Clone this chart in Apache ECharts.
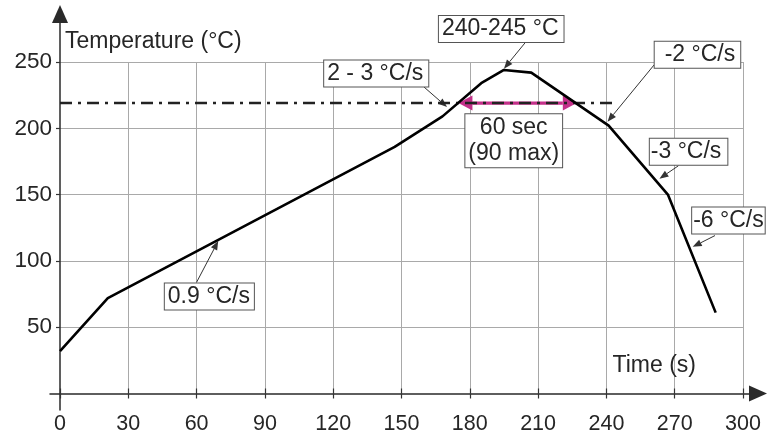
<!DOCTYPE html>
<html><head><meta charset="utf-8">
<script src="https://cdn.jsdelivr.net/npm/echarts@6/dist/echarts.min.js"></script>
<style>html,body{margin:0;padding:0;background:#fff}#c{width:768px;height:439px}</style>
</head><body><div id="c"></div>
<script>
// ---- data ----
const timeS = [0, 21, 147, 168, 185, 195, 207, 241, 267, 288];
const tempC = [32, 72, 186, 209, 234, 244, 242, 202, 150, 61];
const liquidusTemp = 219;
const liquidusTimes = [0, 243];
const aboveLiquidusTimes = [175, 227];
const xAxisRange = [0, 300, 30];
const yAxisRange = [0, 250, 50];
const annotationTexts = ['240-245 °C', '2 - 3 °C/s', '-2 °C/s', '60 sec\n(90 max)', '-3 °C/s', '-6 °C/s', '0.9 °C/s'];
// annotation anchors in data units (time, temperature)
const annotationBoxAt = [[193.8, 274.8], [138.9, 241.3], [280.0, 255.4], [199.3, 190.7], [276.1, 182.4], [293.6, 130.4], [65.6, 73.1]];
const annotationArrowFrom = [[204.2, 264.3], [159.9, 231.1], [261.0, 247.9], null, [271.6, 171.7], [287.7, 119.1], [60.0, 83.9]];
const annotationArrowTo = [[195, 245], [170, 216], [240.5, 205], null, [263.3, 162], [277.9, 110.6], [69.5, 115]];
const annotationPadding = [[1,5,1,3],[1,5,1,3],[1,5,1,10],[1,3,1,3],[1,6,1,1],[1,1,1,1],[1,4,1,3]];

const FONT = "'Liberation Sans', Arial, Helvetica, sans-serif";
const TXT = '#262626';

const chart = echarts.init(document.getElementById('c'));

function arrowHead(p2, ang, L, W) {
  const base = [p2[0] - L * Math.cos(ang), p2[1] - L * Math.sin(ang)];
  const a = [base[0] + W * Math.sin(ang), base[1] - W * Math.cos(ang)];
  const b = [base[0] - W * Math.sin(ang), base[1] + W * Math.cos(ang)];
  return { base, pts: [p2, a, b] };
}

chart.setOption({
  animation: false,
  backgroundColor: '#fff',
  grid: [
    { left: 60, right: 25, top: 62, bottom: 45.5 },
    { left: 50, right: 10, top: 14, bottom: 29 }
  ],
  xAxis: [
    {
      type: 'value', gridIndex: 0, min: xAxisRange[0], max: xAxisRange[1], interval: xAxisRange[2],
      axisLine: { show: false },
      axisTick: { show: true, length: 5, lineStyle: { color: '#333', width: 1.2 } },
      axisLabel: { fontSize: 21.5, color: TXT, margin: 20, fontFamily: FONT },
      splitLine: { show: true, showMinLine: false, lineStyle: { color: '#a9a9a9', width: 1 } },
      name: 'Time (s)', nameLocation: 'end', nameGap: -47,
      nameTextStyle: { fontSize: 23, color: TXT, fontFamily: FONT, align: 'right', verticalAlign: 'bottom', padding: [0, 0, 16, 0] }
    },
    {
      type: 'value', gridIndex: 1, min: -10, max: 698,
      axisLine: { show: true, onZero: true, symbol: ['none', 'triangle'], symbolSize: [16, 18], lineStyle: { color: '#2a2a2a', width: 1.5 } },
      axisTick: { show: false }, axisLabel: { show: false }, splitLine: { show: false }
    },
    {
      type: 'value', gridIndex: 0, position: 'bottom', min: xAxisRange[0], max: xAxisRange[1], interval: xAxisRange[2],
      axisLine: { show: false },
      axisTick: { show: true, inside: true, length: 5, lineStyle: { color: '#333', width: 1.2 } },
      axisLabel: { show: false }, splitLine: { show: false }
    }
  ],
  yAxis: [
    {
      type: 'value', gridIndex: 0, min: yAxisRange[0], max: yAxisRange[1], interval: yAxisRange[2],
      axisLine: { show: false },
      axisTick: { show: true, length: 4, lineStyle: { color: '#333', width: 1.2 } },
      axisLabel: { fontSize: 22.5, color: TXT, margin: 8, fontFamily: FONT, showMinLabel: false },
      splitLine: { show: true, showMinLine: false, lineStyle: { color: '#a9a9a9', width: 1 } },
      name: 'Temperature (°C)', nameLocation: 'end', nameGap: 20,
      nameTextStyle: { fontSize: 23, color: TXT, fontFamily: FONT, align: 'left', verticalAlign: 'middle', padding: [0, 0, 0, 5] }
    },
    {
      type: 'value', gridIndex: 1, min: -16.5, max: 379.5,
      axisLine: { show: true, onZero: true, symbol: ['none', 'triangle'], symbolSize: [16, 18], lineStyle: { color: '#2a2a2a', width: 1.5 } },
      axisTick: { show: false }, axisLabel: { show: false }, splitLine: { show: false }
    }
  ],
  series: [
    {
      type: 'line', xAxisIndex: 0, yAxisIndex: 0, symbol: 'none', silent: true,
      data: liquidusTimes.map(t => [t, liquidusTemp]),
      lineStyle: { color: '#222', width: 2.5, type: [12, 6, 3, 6] }
    },
    {
      type: 'line', xAxisIndex: 0, yAxisIndex: 0, symbol: 'none', silent: true,
      data: timeS.map((t, i) => [t, tempC[i]]),
      lineStyle: { color: '#000', width: 2.6 }
    },
    {
      type: 'custom', xAxisIndex: 0, yAxisIndex: 0, silent: true, clip: false,
      data: [[aboveLiquidusTimes[0], liquidusTemp, aboveLiquidusTimes[1]]],
      renderItem: function (params, api) {
        const p1 = api.coord([api.value(0), api.value(1)]);
        const p2 = api.coord([api.value(2), api.value(1)]);
        const L = 14, W = 7.5, col = '#c4308a';
        const h2 = arrowHead(p2, 0, L, W);
        const h1 = arrowHead(p1, Math.PI, L, W);
        return { type: 'group', children: [
          { type: 'line', shape: { x1: h1.base[0], y1: p1[1], x2: h2.base[0], y2: p2[1] }, style: { stroke: col, lineWidth: 3.2 } },
          { type: 'polygon', shape: { points: h1.pts }, style: { fill: col } },
          { type: 'polygon', shape: { points: h2.pts }, style: { fill: col } }
        ] };
      }
    },
    {
      type: 'custom', xAxisIndex: 0, yAxisIndex: 0, silent: true, clip: false,
      data: annotationBoxAt.map((b, i) => [b[0], b[1], i]),
      renderItem: function (params, api) {
        const i = api.value(2);
        const c = api.coord([api.value(0), api.value(1)]);
        const children = [];
        if (annotationArrowFrom[i]) {
          const p1 = api.coord(annotationArrowFrom[i]);
          const p2 = api.coord(annotationArrowTo[i]);
          const ang = Math.atan2(p2[1] - p1[1], p2[0] - p1[0]);
          const h = arrowHead(p2, ang, 9, 3.5);
          children.push({ type: 'line', shape: { x1: p1[0], y1: p1[1], x2: h.base[0], y2: h.base[1] }, style: { stroke: '#333', lineWidth: 1 } });
          children.push({ type: 'polygon', shape: { points: h.pts }, style: { fill: '#333' } });
        }
        children.push({
          type: 'text', x: c[0], y: c[1],
          style: {
            text: annotationTexts[i], fontSize: 23, fontFamily: FONT, fill: TXT,
            align: 'center', verticalAlign: 'middle', lineHeight: i === 3 ? 25.5 : 24,
            backgroundColor: '#fff', borderColor: '#555', borderWidth: 1,
            padding: annotationPadding[i]
          }
        });
        return { type: 'group', children };
      }
    }
  ]
});
</script>
</body></html>
